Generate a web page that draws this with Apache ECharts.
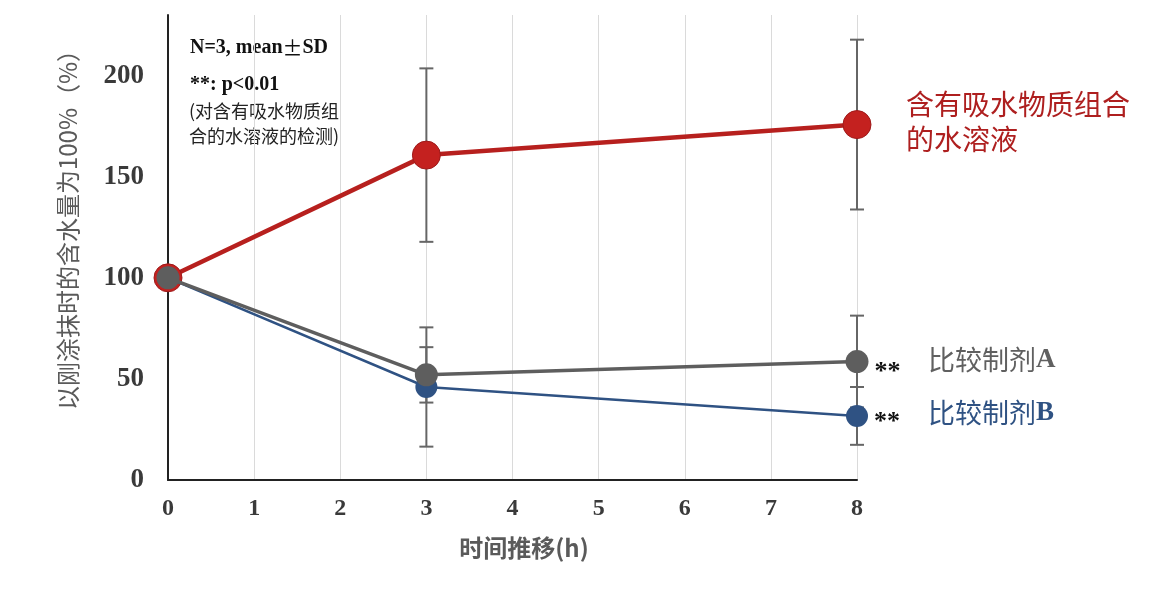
<!DOCTYPE html>
<html><head><meta charset="utf-8">
<script src="https://cdn.jsdelivr.net/npm/echarts@6/dist/echarts.min.js"></script>
<style>html,body{margin:0;padding:0;background:#fff}#c{width:1164px;height:608px}</style>
</head><body><div id="c"></div>
<script>
const times = [0, 3, 8];
const xTicks = [0,1,2,3,4,5,6,7,8];
const yTicks = [0,50,100,150,200];
const redVals = [100, 160.7, 175.8];
const redSD   = [0, 42.9, 42.0];
const aVals   = [100, 52.0, 58.6];
const aSD     = [0, 13.7, 22.7];
const bVals   = [100, 46.0, 31.7];
const bSD     = [0, 29.5, 14.3];

const RED = '#B7201E', GRAY = '#5E5E5E', BLUE = '#2F5283';
const serif = "'Liberation Serif','Times New Roman',serif";
const cjk = "'Noto Sans CJK SC','Noto Sans',sans-serif";

function pts(v){ return times.map((t,i)=>[t, v[i]]); }
function errs(v, sd){ return times.map((t,i)=>[t, v[i]-sd[i], v[i]+sd[i]]).filter((d,i)=>sd[i]>0); }
const errData = [].concat(errs(redVals, redSD), errs(aVals, aSD), errs(bVals, bSD));

const chart = echarts.init(document.getElementById('c'));
chart.setOption({
  animation: false,
  grid: {left: 168, right: 307, top: 15, bottom: 128},
  xAxis: {
    type: 'value', min: 0, max: 8, interval: 1,
    axisLine: {show: true, lineStyle: {color: '#222', width: 2}},
    axisTick: {show: false},
    splitLine: {show: true, lineStyle: {color: '#DADADA', width: 1}},
    axisLabel: {margin: 17, fontFamily: serif, fontWeight: 'bold', fontSize: 24, color: '#3A3A3A',
      formatter: v => xTicks.includes(v) ? String(v) : ''}
  },
  yAxis: {
    type: 'value', min: 0, max: 230, interval: 50,
    axisLine: {show: true, lineStyle: {color: '#222', width: 2}},
    axisTick: {show: false},
    splitLine: {show: false},
    axisLabel: {margin: 24, fontFamily: serif, fontWeight: 'bold', fontSize: 27, color: '#3A3A3A',
      formatter: v => yTicks.includes(v) ? String(v) : ''}
  },
  series: [
    {
      type: 'custom', z: 1, data: errData,
      renderItem: function(params, api){
        const x = api.value(0);
        const lo = api.coord([x, api.value(1)]);
        const hi = api.coord([x, api.value(2)]);
        const w = 7;
        const st = {stroke: '#666', lineWidth: 2};
        return {type: 'group', children: [
          {type: 'line', shape: {x1: lo[0], y1: lo[1], x2: hi[0], y2: hi[1]}, style: st},
          {type: 'line', shape: {x1: lo[0]-w, y1: lo[1], x2: lo[0]+w, y2: lo[1]}, style: st},
          {type: 'line', shape: {x1: hi[0]-w, y1: hi[1], x2: hi[0]+w, y2: hi[1]}, style: st}
        ]};
      }
    },
    {
      type: 'line', z: 2, data: pts(redVals), symbol: 'circle', symbolSize: 28,
      lineStyle: {color: RED, width: 4.5}, itemStyle: {color: '#C4211F', borderColor: '#9E1B1B', borderWidth: 1}
    },
    {
      type: 'line', z: 3, data: pts(bVals), symbol: 'circle', symbolSize: 22,
      lineStyle: {color: BLUE, width: 2.5}, itemStyle: {color: BLUE},
      label: {show: true, position: 'right', distance: 6, offset: [0, 6], fontFamily: serif, fontWeight: 'bold', fontSize: 26, color: '#111',
        formatter: p => p.dataIndex === 2 ? '**' : ''}
    },
    {
      type: 'line', z: 4, data: pts(aVals), symbol: 'circle', symbolSize: 23,
      lineStyle: {color: GRAY, width: 3.5}, itemStyle: {color: GRAY},
      label: {show: true, position: 'right', distance: 6, offset: [0, 11], fontFamily: serif, fontWeight: 'bold', fontSize: 26, color: '#111',
        formatter: p => p.dataIndex === 2 ? '**' : ''}
    }
  ],
  graphic: [
    {type: 'text', x: 68, y: 224, rotation: Math.PI/2,
      style: {text: '以刚涂抹时的含水量为100%（%）', fill: '#5A5A5A', font: "24px " + cjk, textAlign: 'center', textVerticalAlign: 'middle'}},
    {type: 'text', x: 524, y: 548,
      style: {text: '时间推移(h)', fill: '#5A5A5A', font: "bold 24px " + cjk, textAlign: 'center', textVerticalAlign: 'middle'}},
    {type: 'text', x: 190, y: 48,
      style: {rich: {a: {font: "bold 20px " + serif, fill: '#111'}, p: {font: "20px " + cjk, fill: '#111'}},
        text: '{a|N=3, mean}{p|±}{a|SD}', textVerticalAlign: 'middle'}},
    {type: 'text', x: 190, y: 85,
      style: {text: '**: p<0.01', fill: '#111', font: "bold 20px " + serif, textVerticalAlign: 'middle'}},
    {type: 'text', x: 189, y: 111,
      style: {text: '(对含有吸水物质组', fill: '#222', font: "18px " + cjk, textVerticalAlign: 'middle'}},
    {type: 'text', x: 189, y: 136,
      style: {text: '合的水溶液的检测)', fill: '#222', font: "18px " + cjk, textVerticalAlign: 'middle'}},
    {type: 'text', x: 906, y: 104,
      style: {text: '含有吸水物质组合', fill: '#AE1F1F', font: "28px " + cjk, textVerticalAlign: 'middle'}},
    {type: 'text', x: 906, y: 139,
      style: {text: '的水溶液', fill: '#AE1F1F', font: "28px " + cjk, textVerticalAlign: 'middle'}},
    {type: 'text', x: 928, y: 360,
      style: {rich: {c: {font: "27px " + cjk, fill: '#606060'}, l: {font: "bold 27px " + serif, fill: '#606060'}},
        text: '{c|比较制剂}{l|A}', textVerticalAlign: 'middle'}},
    {type: 'text', x: 928, y: 413,
      style: {rich: {c: {font: "27px " + cjk, fill: BLUE}, l: {font: "bold 27px " + serif, fill: BLUE}},
        text: '{c|比较制剂}{l|B}', textVerticalAlign: 'middle'}}
  ]
});
</script></body></html>
